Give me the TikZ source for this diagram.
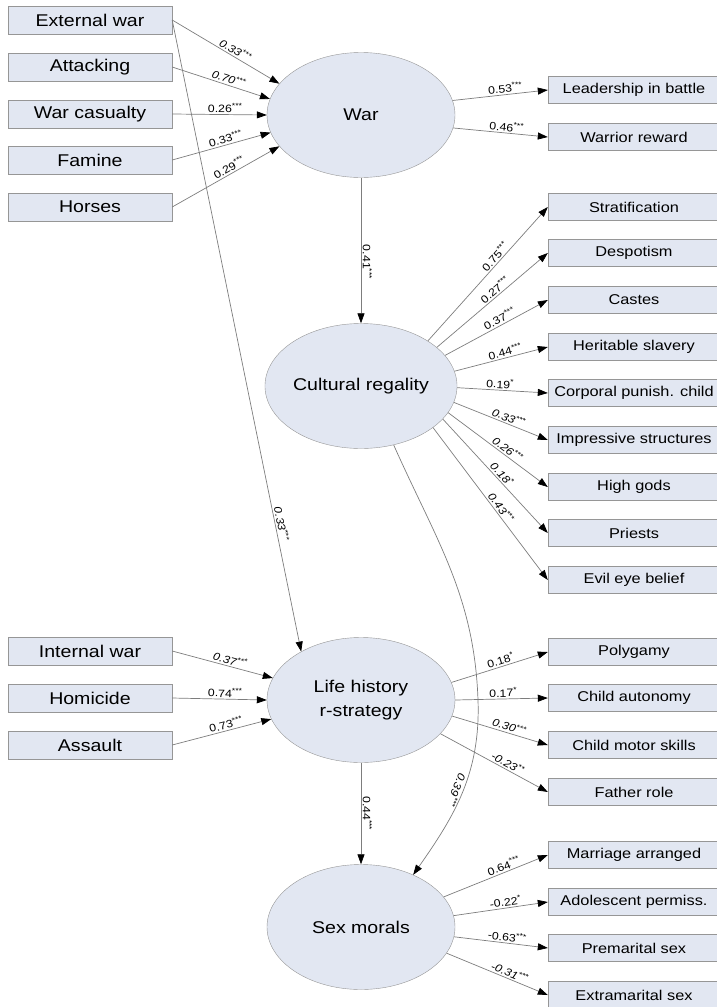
\documentclass[tikz,border=0pt]{standalone}
\usepackage{fontspec}
\setmainfont[FakeStretch=1.15]{Liberation Sans}
\usetikzlibrary{shapes.geometric,arrows.meta}
\definecolor{boxfill}{RGB}{226,231,242}
\definecolor{boxline}{RGB}{150,150,150}
\definecolor{pathgray}{RGB}{125,125,125}
\newcommand{\sig}[1]{\textsuperscript{#1}}
\tikzset{
  obs/.style={draw=boxline, fill=boxfill, minimum width=164pt, minimum height=28pt, inner sep=0pt, font=\fontsize{17}{20}\selectfont},
  ind/.style={obs, minimum width=172pt, minimum height=27pt, font=\fontsize{14.2}{17}\selectfont},
  latent/.style={ellipse, draw=boxline, fill=boxfill, minimum width=188pt, minimum height=125pt, inner sep=0pt, align=center, font=\fontsize{17}{24}\selectfont},
  path/.style={draw=pathgray, line width=0.7pt, -{Triangle[length=10pt,width=7pt,color=black]}},
  coef/.style={font=\fontsize{10.7}{12}\selectfont, sloped, above, inner sep=1.5pt, pos=0.56},
  coefi/.style={coef, font=\fontsize{10.7}{12}\selectfont\itshape}
}
\begin{document}
\begin{tikzpicture}[x=1pt,y=-1pt]
\useasboundingbox (0,0) rectangle (717,1007);
% latent constructs
\node [latent] (war) at (361,115) {War};
\node [latent] (cult) at (361,386) {Cultural regality};
\node [latent] (life) at (361,700) {Life history\\r-strategy};
\node [latent] (sex) at (361,927) {Sex morals};
\coordinate (bend) at (478,700);
% causes
\node [obs] (extw) at (90,20) {External war};
\node [obs] (attack) at (90,67) {Attacking};
\node [obs] (casualty) at (90,114) {War casualty};
\node [obs] (famine) at (90,160) {Famine};
\node [obs] (horses) at (90,207) {Horses};
\node [obs] (intw) at (90,651) {Internal war};
\node [obs] (homicide) at (90,698) {Homicide};
\node [obs] (assault) at (90,745) {Assault};
% indicators
\node [ind] (leader) at (634,90) {Leadership in battle};
\node [ind] (reward) at (634,137) {Warrior reward};
\node [ind] (strat) at (634,207) {Stratification};
\node [ind] (despot) at (634,253) {Despotism};
\node [ind] (castes) at (634,300) {Castes};
\node [ind] (slavery) at (634,347) {Heritable slavery};
\node [ind] (corporal) at (634,393) {Corporal punish. child};
\node [ind] (impress) at (634,440) {Impressive structures};
\node [ind] (gods) at (634,487) {High gods};
\node [ind] (priests) at (634,533) {Priests};
\node [ind] (evileye) at (634,580) {Evil eye belief};
\node [ind] (polygamy) at (634,652) {Polygamy};
\node [ind] (autonomy) at (634,698) {Child autonomy};
\node [ind] (motor) at (634,745) {Child motor skills};
\node [ind] (father) at (634,792) {Father role};
\node [ind] (marriage) at (634,855) {Marriage arranged};
\node [ind] (adolesc) at (634,902) {Adolescent permiss.};
\node [ind] (premar) at (634,948) {Premarital sex};
\node [ind] (extramar) at (634,995) {Extramarital sex};
% paths into War
\draw [path] (extw.east) -- node [coefi] {0.33\sig{***}} (war.159);
\draw [path] (attack.east) -- node [coefi] {0.70\sig{***}} (war.170);
\draw [path] (casualty.east) -- node [coef] {0.26\sig{***}} (war.180);
\draw [path] (famine.east) -- node [coef] {0.33\sig{***}} (war.191);
\draw [path] (horses.east) -- node [coef] {0.29\sig{***}} (war.201);
\draw [path] (war.9) -- node [coef] {0.53\sig{***}} (leader.west);
\draw [path] (war.-8) -- node [coef] {0.46\sig{***}} (reward.west);
\draw [path] (war.south) -- node [coef, allow upside down, pos=0.58] {0.41\sig{***}} (cult.north);
% Cultural regality
\draw [path] (cult.34) -- node [coef, pos=0.6] {0.75\sig{***}} (strat.west);
\draw [path] (cult.27) -- node [coef] {0.27\sig{***}} (despot.west);
\draw [path] (cult.20) -- node [coef] {0.37\sig{***}} (castes.west);
\draw [path] (cult.9) -- node [coef] {0.44\sig{***}} (slavery.west);
\draw [path] (cult.-1) -- node [coef, pos=0.47] {0.19\sig{*}} (corporal.west);
\draw [path] (cult.-10) -- node [coefi] {0.33\sig{***}} (impress.west);
\draw [path] (cult.-17) -- node [coefi] {0.26\sig{***}} (gods.west);
\draw [path] (cult.-22) -- node [coefi, pos=0.52] {0.18\sig{*}} (priests.west);
\draw [path] (cult.-30) -- node [coefi, pos=0.55] {0.43\sig{***}} (evileye.west);
\draw [path] (cult.-61) to [out=-66, in=92] (bend) to [out=-88, in=55] node [coefi, allow upside down, below, inner sep=1pt, pos=0.5] {0.39\sig{***}} (sex.45);
% Life history
\draw [path] (extw.east) -- node [coefi, pos=0.8] {0.33\sig{***}} (life.141);
\draw [path] (intw.east) -- node [coefi] {0.37\sig{***}} (life.166);
\draw [path] (homicide.east) -- node [coef] {0.74\sig{***}} (life.180);
\draw [path] (assault.east) -- node [coef] {0.73\sig{***}} (life.192);
\draw [path] (life.11) -- node [coef, pos=0.53] {0.18\sig{*}} (polygamy.west);
\draw [path] (life.0) -- node [coef, pos=0.52] {0.17\sig{*}} (autonomy.west);
\draw [path] (life.-10) -- node [coefi, pos=0.58] {0.30\sig{***}} (motor.west);
\draw [path] (life.-23) -- node [coefi, pos=0.6] {-0.23\sig{**}} (father.west);
\draw [path] (life.south) -- node [coef, allow upside down, pos=0.5] {0.44\sig{***}} (sex.north);
% Sex morals
\draw [path] (sex.20) -- node [coef, pos=0.6] {0.64\sig{***}} (marriage.west);
\draw [path] (sex.7) -- node [coef] {-0.22\sig{*}} (adolesc.west);
\draw [path] (sex.-6) -- node [coef] {-0.63\sig{***}} (premar.west);
\draw [path] (sex.-17) -- node [coefi, pos=0.6] {-0.31\sig{***}} (extramar.west);
\end{tikzpicture}
\end{document}
